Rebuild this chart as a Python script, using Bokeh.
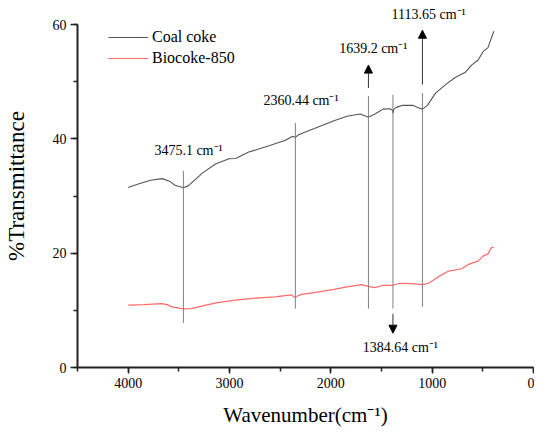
from bokeh.plotting import figure
from bokeh.models import (Range1d, SingleIntervalTicker, ColumnDataSource, LabelSet,
                          Arrow, NormalHead, Legend, LegendItem)
from bokeh.embed import file_html
from bokeh.resources import INLINE

# ---- data ----
coal_wn = [4000, 3908, 3779, 3666, 3585, 3537, 3455, 3407, 3262, 3133, 3004, 2939, 2810, 2648,
           2454, 2375, 2350, 2320, 2163, 1969, 1840, 1710, 1629, 1564, 1484, 1419, 1395, 1387,
           1378, 1355, 1290, 1193, 1144, 1096, 1047, 967, 870, 773, 676, 611, 546, 498, 449, 417, 391]
coal_t = [31.5, 32.05, 32.75, 33.04, 32.52, 31.88, 31.43, 31.77, 34.09, 35.65, 36.52, 36.57, 37.69, 38.56,
          39.70, 40.45, 40.25, 40.7, 41.8, 43.18, 43.95, 44.35, 43.77, 44.35, 45.2, 45.27, 45.1, 44.5,
          45.2, 45.5, 45.86, 45.86, 45.5, 45.2, 45.86, 48.0, 49.45, 50.73, 51.6, 52.9, 53.8, 55.25, 55.95, 57.57, 58.83]

bio_wn = [4000, 3844, 3666, 3617, 3569, 3455, 3375, 3262, 3133, 2939, 2745, 2551, 2389, 2357, 2292,
          2163, 1969, 1840, 1694, 1629, 1564, 1484, 1387, 1322, 1193, 1096, 1031, 934, 837, 708,
          643, 546, 498, 449, 417, 391]
bio_t = [10.9, 11.0, 11.18, 11.0, 10.6, 10.26, 10.3, 10.78, 11.3, 11.77, 12.12, 12.35, 12.7, 12.3, 12.8,
         13.1, 13.68, 14.09, 14.5, 14.2, 13.97, 14.38, 14.38, 14.73, 14.67, 14.5, 14.78, 15.94, 16.87, 17.27,
         18.03, 18.6, 19.48, 19.88, 20.92, 21.04]

peak_wn = [3455, 2350, 1629, 1387, 1096]
peak_top = [34.4, 42.8, 47.5, 47.7, 48.0]
peak_bottom = [7.8, 10.3, 10.3, 10.3, 10.6]

arrow_wn = [1629, 1096, 1387]
arrow_from = [48.9, 49.5, 9.4]
arrow_to = [52.9, 59.0, 6.0]

label_text = ["3475.1 cm\u207b\u00b9", "2360.44 cm\u207b\u00b9", "1639.2 cm\u207b\u00b9",
              "1384.64 cm\u207b\u00b9", "1113.65 cm\u207b\u00b9"]
label_wn = [3404, 2294, 1581, 1314, 1035]
label_y = [37.1, 45.97, 54.96, 2.78, 61.04]

x_ticks_interval = 1000
y_ticks_interval = 20
y_axis_bounds = (0, 60)

FONT = "Liberation Serif"

p = figure(width=534, height=429, output_backend="svg", toolbar_location=None,
           x_range=Range1d(4500, 0), y_range=Range1d(0, 63.5),
           min_border_left=76, min_border_right=1, min_border_top=4, min_border_bottom=62)
p.outline_line_color = None
p.xgrid.visible = False
p.ygrid.visible = False

coal = p.line(coal_wn, coal_t, line_color="#555555", line_width=1.1)
bio = p.line(bio_wn, bio_t, line_color="#ff6b6b", line_width=1.2)

p.segment(x0=peak_wn, y0=peak_bottom, x1=peak_wn, y1=peak_top, line_color="#808080", line_width=1)

asrc = ColumnDataSource(dict(x0=arrow_wn, y0=arrow_from, x1=arrow_wn, y1=arrow_to))
p.add_layout(Arrow(source=asrc, x_start="x0", y_start="y0", x_end="x1", y_end="y1",
                   line_color="#333333", line_width=1,
                   end=NormalHead(size=8, fill_color="black", line_color="black")))

lsrc = ColumnDataSource(dict(x=label_wn, y=label_y, t=label_text))
p.add_layout(LabelSet(source=lsrc, x="x", y="y", text="t", text_align="center",
                      text_baseline="alphabetic", text_font=FONT, text_font_size="14px",
                      text_color="black"))

legend = Legend(items=[LegendItem(label="Coal coke", renderers=[coal]),
                       LegendItem(label="Biocoke-850", renderers=[bio])],
                location=(31, 299), border_line_color=None, background_fill_alpha=0,
                padding=0, margin=0, spacing=1, glyph_width=40, glyph_height=20,
                label_height=20, label_standoff=4, label_text_font=FONT,
                label_text_font_size="16px", label_text_color="black")
p.add_layout(legend)

p.xaxis.ticker = SingleIntervalTicker(interval=x_ticks_interval, num_minor_ticks=2)
p.yaxis.ticker = SingleIntervalTicker(interval=y_ticks_interval, num_minor_ticks=2)
p.yaxis.bounds = y_axis_bounds

for ax in (p.xaxis, p.yaxis):
    ax.axis_line_width = 2
    ax.axis_line_color = "#222222"
    ax.major_tick_line_width = 1.5
    ax.major_tick_line_color = "#222222"
    ax.minor_tick_line_width = 1.5
    ax.minor_tick_line_color = "#222222"
    ax.major_tick_in = 0
    ax.minor_tick_in = 0
    ax.major_label_text_font = FONT
    ax.major_label_text_font_size = "14px"
    ax.major_label_text_color = "black"
    ax.axis_label_text_font = FONT
    ax.axis_label_text_font_style = "normal"
    ax.axis_label_text_color = "black"

p.xaxis.major_tick_out = 6
p.xaxis.minor_tick_out = 4
p.yaxis.major_tick_out = 7
p.yaxis.minor_tick_out = 4
p.xaxis.major_label_standoff = 4
p.yaxis.major_label_standoff = 4
p.xaxis.axis_label = "Wavenumber(cm\u207b\u00b9)"
p.yaxis.axis_label = "%Transmittance"
p.xaxis.axis_label_text_font_size = "21px"
p.yaxis.axis_label_text_font_size = "23px"
p.xaxis.axis_label_standoff = 12
p.yaxis.axis_label_standoff = 21

open("out.html", "w").write(file_html(p, INLINE))
